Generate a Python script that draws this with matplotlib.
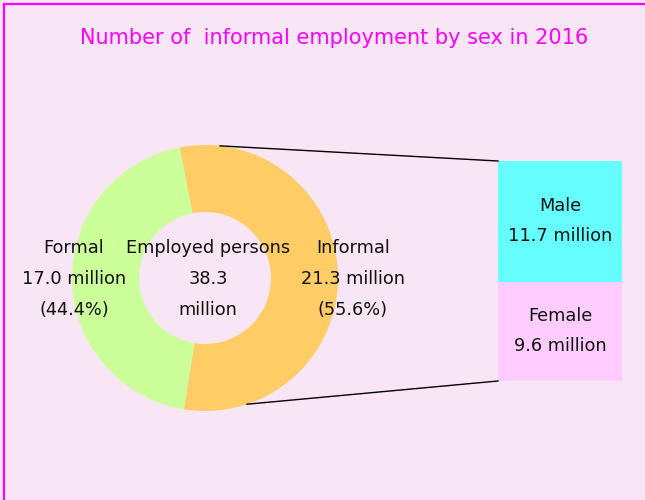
"""Donut of employed persons by formal/informal, with informal split by sex."""

import matplotlib

matplotlib.use("Agg")
import matplotlib.pyplot as plt
import numpy as np

title = "Number of  informal employment by sex in 2016"
total_employed = 38.3
donut_labels = ["Informal", "Formal"]
donut_values = [21.3, 17.0]
donut_shares = [55.6, 44.4]
donut_colors = ["#FFCC66", "#CCFF99"]

sex_labels = ["Female", "Male"]
sex_values = [9.6, 11.7]
sex_colors = ["#FFCCFF", "#66FFFF"]

bg = "#F8E6F5"
W, H = 645, 500

fig = plt.figure(figsize=(6.45, 5.0), dpi=100, facecolor=bg)
ax = fig.add_axes([0, 0, 1, 1])
ax.set_facecolor(bg)

cx, cy, r = 205, H - 278, 133
wedges, _ = ax.pie(donut_values, colors=donut_colors, startangle=101.0,
                   counterclock=False, center=(cx, cy), radius=r,
                   wedgeprops=dict(width=67, linewidth=0), frame=True)
ax.set_xlim(0, W)
ax.set_ylim(0, H)
ax.set_aspect("equal")
ax.axis("off")

# outer border (top and left visible)
ax.plot([4, 4, W + 5], [-5, H - 4, H - 4], color="#FF00FF", lw=1.6,
        solid_joinstyle="miter")

ax.text(334, H - 38, title, color="#FF00FF", fontsize=15,
        ha="center", va="center")

font = dict(fontsize=12.8, ha="center", va="center", color="#111111",
            linespacing=1.95)
ax.text(353, H - 279, f"{donut_labels[0]}\n{donut_values[0]:.1f} million\n"
        f"({donut_shares[0]:.1f}%)", **font)
ax.text(74, H - 279, f"{donut_labels[1]}\n{donut_values[1]:.1f} million\n"
        f"({donut_shares[1]:.1f}%)", **font)
ax.text(208, H - 279, f"Employed persons\n{total_employed}\nmillion", **font)

# stacked bar for informal by sex
bx = fig.add_axes([498 / W, (H - 381) / H, 124 / W, 220 / H])
bottom = 0
for lab, val, col in zip(sex_labels, sex_values, sex_colors):
    bx.bar(0, val, bottom=bottom, width=1, color=col, linewidth=0)
    bx.text(0, bottom + val / 2, f"{lab}\n{val} million",
            **{**font, "linespacing": 1.85})
    bottom += val
bx.set_xlim(-0.5, 0.5)
bx.set_ylim(0, sum(sex_values))
bx.axis("off")

# connector lines from donut edge to bar corners
for ang, yb in [(83.5, 1.0), (-71.6, 0.0)]:
    px = cx + r * np.cos(np.radians(ang))
    py = cy + r * np.sin(np.radians(ang))
    fx, fy = px / W, py / H
    ex, ey = 498 / W, ((H - 381) + 220 * yb) / H
    fig.add_artist(plt.Line2D([fx, ex], [fy, ey], color="black", lw=1,
                              transform=fig.transFigure))

fig.savefig("out.png", dpi=100, facecolor=bg)
